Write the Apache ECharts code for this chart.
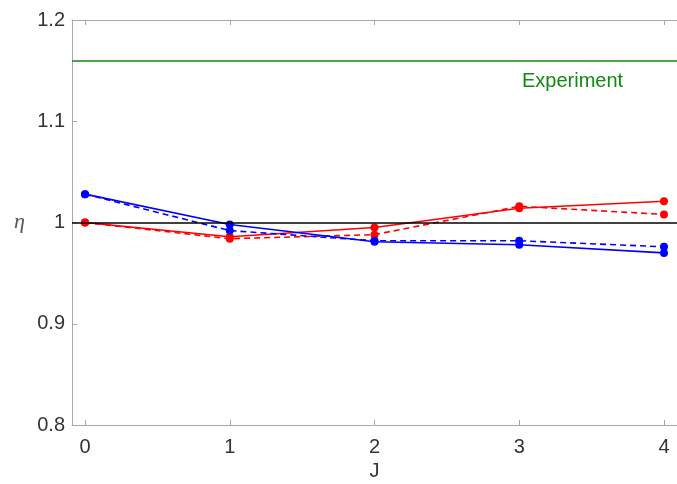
<!DOCTYPE html>
<html>
<head>
<meta charset="utf-8">
<script src="https://cdn.jsdelivr.net/npm/echarts@6/dist/echarts.min.js"></script>
<style>html,body{margin:0;padding:0;background:#fff;}#c{width:677px;height:484px;}</style>
</head>
<body>
<div id="c"></div>
<script>
var J = [0, 1, 2, 3, 4];
var blueSolid  = [1.028, 0.998, 0.981, 0.978, 0.970];
var blueDashed = [1.028, 0.992, 0.982, 0.982, 0.976];
var redSolid   = [1.000, 0.986, 0.995, 1.014, 1.021];
var redDashed  = [1.000, 0.984, 0.988, 1.016, 1.008];
var experimentValue = 1.16;
var referenceValue = 1.0;
var yTicks = [0.8, 0.9, 1.0, 1.1, 1.2];
var experimentLabel = 'Experiment';

function pairs(ys) { return J.map(function (x, i) { return [x, ys[i]]; }); }

var chart = echarts.init(document.getElementById('c'), null, {renderer: 'canvas'});
var axisGray = '#a8a8a8';
var labelColor = '#333';
var font = 'Liberation Sans';

function lineSeries(name, ys, color, dashed) {
  return {
    name: name, type: 'line', data: pairs(ys),
    symbol: 'circle', symbolSize: 8, showSymbol: true,
    lineStyle: {color: color, width: 1.6, type: dashed ? [6, 4] : 'solid'},
    itemStyle: {color: color},
    animation: false, z: 3
  };
}

chart.setOption({
  animation: false,
  grid: {left: 72, top: 20, right: 0, bottom: 59, containLabel: false, outerBoundsMode: 'none'},
  xAxis: [{
    type: 'value', min: -0.09, max: 4.09, minInterval: 1, maxInterval: 1,
    name: 'J', nameLocation: 'middle', nameGap: 33,
    nameTextStyle: {fontFamily: font, fontSize: 20, color: labelColor},
    axisLine: {show: true, onZero: false, lineStyle: {color: axisGray, width: 1}},
    axisTick: {show: true, inside: true, length: 5, lineStyle: {color: axisGray}},
    axisLabel: {fontFamily: font, fontSize: 20, color: labelColor, margin: 12,
      showMinLabel: false, showMaxLabel: false,
      formatter: function (v) { return Math.abs(v - Math.round(v)) < 1e-6 ? String(Math.round(v)) : ''; }},
    splitLine: {show: false}
  }, {
    type: 'value', position: 'top', min: -0.09, max: 4.09, minInterval: 1, maxInterval: 1,
    axisLine: {show: true, onZero: false, lineStyle: {color: axisGray, width: 1}},
    axisTick: {show: true, inside: true, length: 5, lineStyle: {color: axisGray}},
    axisLabel: {show: false}, splitLine: {show: false}
  }],
  yAxis: [{
    type: 'value', min: yTicks[0], max: yTicks[yTicks.length - 1], interval: 0.1,
    name: 'η', nameLocation: 'middle', nameGap: 47, nameRotate: 0,
    nameTextStyle: {fontFamily: 'Liberation Serif', fontStyle: 'italic', fontSize: 22, color: '#555'},
    axisLine: {show: true, onZero: false, lineStyle: {color: axisGray, width: 1}},
    axisTick: {show: true, inside: true, length: 5, lineStyle: {color: axisGray}},
    axisLabel: {fontFamily: font, fontSize: 20, color: labelColor, margin: 7,
      formatter: function (v) { return String(parseFloat(v.toFixed(2))); }},
    splitLine: {show: false}
  }],
  series: [
    {
      type: 'line', data: [], silent: true,
      markLine: {
        silent: true, symbol: 'none', animation: false,
        label: {show: false},
        data: [
          {yAxis: referenceValue, lineStyle: {color: '#000', width: 1.6, type: 'solid'}},
          {yAxis: experimentValue, lineStyle: {color: '#108a10', width: 1.6, type: 'solid'}}
        ]
      },
      z: 2
    },
    lineSeries('redSolid', redSolid, '#ff0000', false),
    lineSeries('redDashed', redDashed, '#ff0000', true),
    lineSeries('blueSolid', blueSolid, '#0000ff', false),
    lineSeries('blueDashed', blueDashed, '#0000ff', true)
  ],
  graphic: [{
    type: 'text', left: 522, top: 71,
    style: {text: experimentLabel, fontFamily: font, fontSize: 20, fill: '#108a10'}
  }]
});
</script>
</body>
</html>
